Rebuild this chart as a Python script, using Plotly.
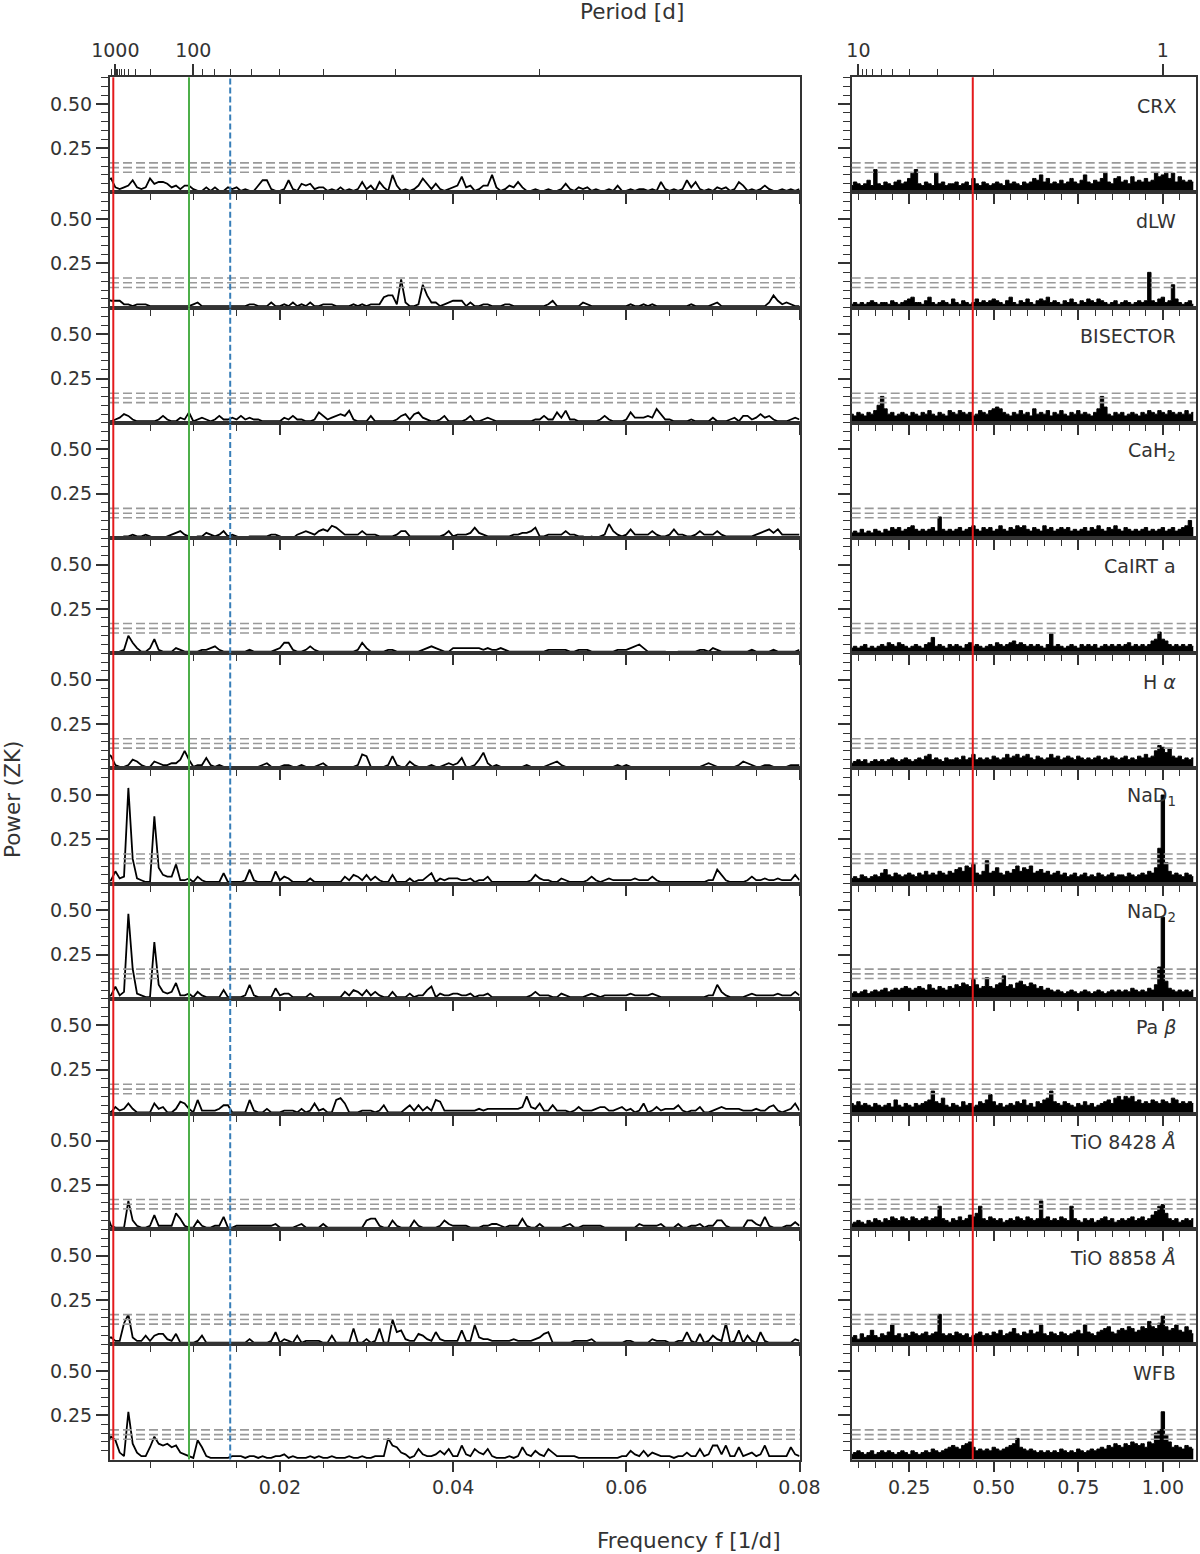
"""ZK periodograms of the activity indicators: long-period and short-period windows."""

from __future__ import annotations

import numpy as np
import plotly.graph_objects as go

FONT = "DejaVu Sans"
INK = "#333333"
W, H = 1200, 1554

# frequency grids [1/d]
FREQ_LONG = np.linspace(0.0, 0.08, 161)
FREQ_SHORT = np.linspace(0.08, 1.09, 102)

# ZK power, in units of 0.01
CRX_LONG = [7, 8, 3, 2, 3, 4, 7, 3, 2, 3, 8, 5, 6, 6, 5, 3, 4, 2, 4, 4,
            2, 1, 1, 3, 1, 3, 1, 1, 3, 2, 3, 1, 2, 1, 1, 4, 7, 7, 2, 1,
            1, 2, 7, 2, 1, 5, 4, 5, 2, 3, 3, 1, 2, 1, 3, 1, 2, 1, 2, 6,
            2, 4, 1, 6, 3, 1, 10, 4, 1, 2, 1, 2, 4, 8, 5, 2, 5, 2, 1, 2,
            3, 4, 9, 3, 4, 1, 2, 4, 4, 10, 3, 1, 2, 4, 3, 6, 3, 1, 1, 2,
            1, 1, 2, 1, 1, 2, 5, 2, 1, 3, 2, 3, 1, 2, 1, 1, 2, 1, 4, 1,
            1, 2, 1, 2, 2, 1, 2, 1, 6, 2, 1, 2, 1, 2, 7, 3, 6, 2, 1, 2,
            1, 3, 2, 3, 1, 2, 6, 4, 1, 2, 1, 2, 4, 2, 1, 1, 2, 1, 2, 1, 2]
DLW_LONG = [5, 4, 4, 4, 2, 2, 1, 2, 2, 2, 1, 1, 1, 1, 1, 1, 1, 1, 1, 1,
            2, 3, 1, 1, 1, 1, 1, 1, 1, 1, 1, 1, 1, 2, 2, 1, 1, 1, 3, 1,
            1, 2, 1, 3, 1, 2, 1, 3, 1, 1, 2, 2, 2, 1, 1, 1, 1, 2, 1, 2,
            1, 2, 2, 2, 6, 7, 7, 2, 16, 3, 1, 1, 2, 13, 7, 3, 3, 1, 2, 3,
            4, 4, 4, 1, 3, 1, 1, 2, 2, 1, 1, 1, 2, 2, 1, 1, 1, 1, 1, 1,
            1, 1, 2, 4, 1, 1, 1, 1, 1, 1, 3, 2, 1, 1, 1, 1, 1, 1, 1, 1,
            1, 2, 1, 1, 2, 1, 2, 1, 1, 1, 1, 1, 1, 1, 1, 2, 1, 1, 1, 1,
            2, 3, 1, 1, 1, 1, 1, 1, 1, 1, 1, 1, 1, 3, 7, 4, 2, 3, 2, 1, 1]
BIS_LONG = [1, 1, 2, 3, 5, 4, 2, 1, 1, 1, 1, 1, 2, 4, 2, 1, 1, 3, 2, 6,
            1, 2, 3, 2, 1, 2, 4, 2, 2, 3, 2, 4, 2, 3, 2, 2, 1, 1, 1, 1,
            1, 3, 2, 4, 2, 2, 1, 1, 2, 6, 4, 2, 3, 4, 5, 4, 7, 2, 1, 1,
            1, 4, 1, 1, 1, 1, 1, 2, 4, 5, 2, 5, 6, 3, 2, 1, 1, 2, 4, 1,
            1, 1, 1, 2, 4, 1, 1, 2, 3, 2, 1, 1, 1, 1, 1, 1, 1, 1, 1, 2,
            2, 4, 2, 2, 6, 3, 7, 2, 2, 1, 1, 1, 1, 1, 2, 4, 2, 1, 1, 1,
            2, 6, 3, 3, 3, 4, 3, 8, 5, 2, 2, 1, 1, 1, 1, 2, 1, 1, 1, 1,
            3, 1, 1, 1, 2, 3, 1, 4, 4, 2, 3, 5, 3, 4, 2, 1, 1, 1, 2, 3, 2]
CAH2_LONG = [0, 0, 0, 0, 1, 1, 2, 1, 1, 2, 1, 0, 0, 0, 1, 2, 3, 4, 2, 1,
             0, 1, 1, 3, 2, 1, 2, 4, 1, 2, 1, 0, 0, 1, 1, 1, 1, 1, 2, 2,
             1, 0, 0, 0, 2, 3, 4, 3, 2, 4, 5, 4, 7, 6, 4, 2, 2, 2, 2, 4,
             2, 2, 2, 1, 1, 1, 1, 2, 4, 4, 1, 1, 1, 1, 1, 1, 1, 1, 2, 4,
             1, 2, 2, 2, 3, 6, 3, 2, 1, 1, 1, 1, 1, 1, 2, 2, 3, 3, 4, 6,
             1, 1, 2, 2, 2, 2, 4, 2, 2, 1, 1, 0, 1, 0, 1, 2, 8, 4, 2, 1,
             2, 5, 2, 2, 2, 2, 4, 2, 1, 1, 2, 5, 2, 2, 1, 1, 2, 4, 2, 2,
             2, 4, 2, 1, 1, 1, 1, 1, 1, 1, 2, 3, 4, 5, 3, 5, 2, 2, 2, 2, 2]
CAIRT_LONG = [0, 0, 0, 1, 2, 10, 6, 3, 1, 1, 3, 8, 2, 1, 1, 1, 3, 2, 1, 1,
              1, 1, 2, 2, 3, 4, 2, 1, 1, 1, 1, 1, 1, 2, 1, 1, 1, 1, 1, 2,
              3, 6, 6, 2, 1, 1, 2, 4, 2, 1, 1, 1, 1, 1, 1, 1, 1, 1, 2, 6,
              3, 1, 1, 1, 1, 2, 2, 1, 1, 1, 1, 1, 1, 2, 3, 4, 3, 2, 1, 1,
              3, 3, 3, 3, 3, 3, 3, 2, 3, 2, 2, 3, 2, 1, 1, 1, 1, 1, 1, 1,
              1, 1, 2, 2, 2, 2, 2, 1, 1, 2, 2, 2, 1, 1, 1, 1, 1, 1, 2, 2,
              2, 3, 4, 5, 3, 1, 1, 1, 1, 1, 0, 0, 1, 1, 1, 1, 1, 2, 2, 1,
              3, 2, 1, 1, 1, 1, 1, 1, 1, 2, 1, 1, 1, 1, 2, 1, 1, 1, 1, 1, 2]
HA_LONG = [9, 7, 2, 1, 1, 2, 5, 4, 2, 1, 1, 4, 3, 2, 2, 3, 3, 5, 10, 5,
           1, 2, 2, 6, 2, 1, 2, 1, 1, 1, 1, 1, 1, 1, 1, 1, 2, 3, 1, 1,
           1, 2, 2, 1, 1, 2, 1, 1, 1, 2, 3, 1, 1, 1, 1, 1, 1, 1, 2, 8,
           7, 1, 1, 1, 1, 2, 7, 2, 1, 1, 4, 2, 1, 1, 1, 2, 1, 1, 2, 3,
           2, 3, 6, 1, 1, 2, 5, 9, 3, 1, 2, 1, 1, 1, 1, 1, 1, 2, 1, 1,
           1, 1, 2, 3, 4, 2, 1, 1, 1, 1, 1, 1, 1, 1, 1, 1, 1, 1, 2, 1,
           2, 1, 1, 1, 1, 1, 1, 1, 1, 1, 1, 1, 1, 1, 1, 1, 1, 1, 2, 3,
           2, 1, 1, 1, 1, 1, 2, 4, 3, 2, 1, 1, 2, 2, 1, 1, 1, 1, 2, 2, 2]
NAD1_LONG = [1, 2, 7, 3, 4, 54, 14, 3, 2, 1, 1, 38, 9, 5, 4, 4, 11, 2, 2, 3,
             1, 4, 2, 1, 1, 1, 1, 6, 1, 1, 1, 1, 2, 8, 2, 1, 1, 1, 1, 7,
             2, 4, 3, 1, 1, 1, 1, 3, 1, 1, 1, 1, 1, 1, 1, 4, 2, 5, 4, 2,
             5, 2, 4, 2, 1, 1, 5, 1, 1, 1, 3, 1, 2, 2, 4, 6, 1, 3, 2, 3,
             3, 3, 2, 2, 3, 1, 2, 2, 4, 1, 1, 1, 1, 1, 1, 1, 1, 1, 2, 5,
             3, 2, 2, 1, 1, 3, 2, 1, 1, 1, 1, 2, 4, 2, 1, 2, 3, 2, 2, 2,
             2, 2, 3, 2, 2, 2, 4, 2, 1, 1, 1, 1, 1, 1, 1, 1, 1, 1, 1, 2,
             2, 8, 5, 2, 1, 1, 1, 1, 2, 4, 2, 2, 3, 2, 2, 3, 2, 2, 2, 5, 2]
NAD2_LONG = [1, 2, 7, 2, 4, 48, 17, 3, 2, 1, 1, 32, 8, 4, 3, 4, 9, 2, 2, 3,
             1, 4, 2, 1, 1, 1, 1, 5, 1, 1, 1, 1, 2, 8, 2, 1, 1, 1, 1, 6,
             2, 3, 3, 1, 1, 1, 1, 3, 1, 1, 1, 1, 1, 1, 1, 4, 2, 5, 4, 2,
             5, 2, 4, 2, 1, 1, 4, 1, 1, 1, 3, 1, 2, 2, 5, 7, 1, 3, 2, 2,
             3, 3, 2, 2, 3, 1, 2, 2, 3, 1, 1, 1, 1, 1, 1, 1, 1, 1, 2, 4,
             2, 2, 2, 1, 1, 3, 2, 1, 1, 1, 1, 2, 3, 2, 1, 2, 2, 2, 2, 2,
             2, 3, 2, 2, 2, 2, 3, 2, 1, 1, 1, 1, 1, 1, 1, 1, 1, 1, 1, 2,
             2, 8, 4, 2, 1, 1, 1, 1, 2, 3, 2, 2, 2, 2, 2, 3, 2, 2, 2, 4, 2]
PAB_LONG = [2, 1, 4, 2, 3, 6, 3, 1, 1, 1, 1, 6, 3, 4, 1, 1, 3, 7, 6, 3,
            1, 8, 2, 2, 2, 2, 3, 5, 5, 1, 1, 1, 1, 8, 2, 1, 1, 3, 1, 1,
            1, 2, 2, 2, 1, 3, 1, 2, 6, 2, 3, 1, 1, 8, 9, 6, 1, 1, 1, 2,
            2, 2, 1, 2, 5, 1, 1, 1, 1, 3, 5, 2, 5, 2, 4, 2, 8, 7, 2, 2,
            2, 2, 2, 2, 2, 2, 3, 2, 3, 3, 3, 3, 3, 3, 3, 3, 4, 10, 4, 3,
            6, 2, 2, 5, 2, 2, 2, 1, 2, 4, 2, 2, 2, 3, 4, 4, 2, 2, 3, 4,
            2, 3, 1, 2, 6, 1, 2, 4, 2, 3, 3, 3, 5, 2, 1, 2, 2, 4, 1, 1,
            2, 3, 4, 3, 3, 3, 3, 2, 2, 2, 3, 2, 2, 4, 5, 2, 1, 2, 3, 6, 2]
TIO84_LONG = [9, 2, 1, 1, 1, 16, 5, 2, 1, 1, 2, 8, 2, 2, 2, 2, 9, 6, 2, 1,
              1, 5, 2, 1, 1, 2, 2, 7, 1, 1, 2, 2, 2, 2, 2, 2, 2, 2, 2, 3,
              1, 1, 1, 1, 2, 3, 1, 1, 1, 1, 3, 1, 1, 1, 1, 1, 1, 1, 1, 1,
              5, 6, 6, 2, 1, 1, 5, 2, 1, 1, 1, 5, 2, 1, 1, 1, 1, 2, 5, 3,
              2, 2, 2, 2, 1, 1, 1, 2, 2, 3, 3, 2, 1, 2, 2, 2, 6, 2, 1, 1,
              3, 1, 1, 1, 1, 1, 2, 3, 1, 1, 2, 2, 2, 2, 2, 1, 1, 1, 1, 1,
              1, 1, 1, 3, 2, 2, 2, 2, 3, 1, 1, 1, 3, 1, 1, 2, 2, 3, 1, 2,
              2, 5, 5, 2, 1, 1, 1, 1, 5, 5, 3, 2, 7, 2, 1, 1, 1, 2, 2, 4, 2]
TIO88_LONG = [3, 4, 2, 2, 12, 17, 4, 2, 2, 5, 2, 5, 6, 6, 3, 2, 6, 1, 1, 1,
              1, 2, 5, 1, 1, 1, 1, 1, 1, 1, 1, 1, 1, 3, 1, 1, 1, 1, 2, 7,
              1, 3, 2, 1, 5, 1, 2, 2, 2, 2, 1, 1, 5, 1, 1, 1, 1, 9, 1, 1,
              3, 1, 2, 9, 1, 1, 14, 7, 8, 3, 2, 2, 6, 5, 3, 2, 7, 3, 2, 2,
              2, 2, 8, 2, 2, 11, 4, 3, 3, 2, 2, 2, 2, 2, 3, 2, 2, 2, 2, 3,
              4, 6, 7, 1, 1, 1, 1, 1, 2, 2, 2, 2, 3, 1, 1, 1, 1, 1, 1, 1,
              2, 2, 1, 1, 1, 1, 3, 2, 2, 2, 1, 1, 2, 2, 7, 2, 1, 6, 1, 2,
              5, 3, 2, 12, 1, 2, 8, 1, 5, 2, 1, 7, 2, 1, 1, 1, 1, 1, 1, 3, 2]
WFB_LONG = [8, 13, 11, 4, 2, 27, 9, 4, 2, 2, 7, 13, 9, 8, 9, 7, 8, 4, 3, 2,
            1, 11, 7, 2, 1, 1, 1, 1, 1, 2, 2, 2, 1, 2, 2, 1, 2, 1, 1, 2,
            2, 3, 1, 2, 1, 1, 1, 2, 1, 2, 1, 1, 2, 1, 1, 1, 2, 1, 1, 2,
            1, 1, 2, 2, 2, 12, 8, 7, 4, 3, 1, 2, 6, 3, 2, 2, 3, 5, 3, 6,
            2, 2, 8, 3, 2, 6, 4, 3, 6, 2, 1, 1, 1, 2, 1, 2, 7, 3, 2, 5,
            3, 2, 6, 4, 2, 2, 2, 2, 2, 1, 1, 1, 1, 1, 1, 1, 1, 1, 1, 2,
            2, 5, 3, 2, 5, 2, 4, 3, 2, 2, 2, 1, 2, 2, 4, 2, 2, 6, 2, 3,
            8, 8, 3, 8, 2, 2, 7, 2, 3, 4, 2, 3, 8, 2, 2, 2, 2, 2, 7, 3, 2]

# ZK power, in units of 0.01
CRX_SHORT = [4, 6, 5, 4, 5, 7, 4, 13, 5, 4, 6, 5, 4, 6, 7, 5, 6, 8, 11, 13,
             5, 4, 6, 5, 4, 11, 5, 6, 4, 5, 5, 6, 4, 5, 6, 4, 8, 5, 4, 6,
             5, 4, 5, 6, 5, 4, 7, 5, 6, 5, 4, 6, 5, 6, 8, 7, 10, 6, 8, 5,
             6, 5, 7, 5, 6, 8, 6, 5, 7, 10, 6, 5, 7, 6, 8, 11, 6, 5, 8, 9,
             6, 7, 5, 9, 6, 7, 6, 8, 6, 7, 11, 9, 10, 11, 8, 11, 6, 9, 7, 6,
             7, 6]
DLW_SHORT = [2, 3, 2, 3, 2, 3, 4, 3, 2, 3, 3, 2, 4, 3, 2, 3, 4, 5, 6, 3,
             3, 2, 4, 6, 3, 2, 3, 4, 3, 2, 5, 3, 2, 4, 3, 2, 3, 5, 3, 4,
             3, 4, 5, 4, 3, 2, 4, 6, 3, 2, 4, 3, 5, 3, 2, 4, 5, 4, 6, 3,
             4, 3, 2, 4, 3, 5, 3, 2, 4, 3, 5, 4, 3, 5, 4, 3, 2, 3, 4, 2,
             3, 4, 3, 2, 3, 4, 3, 4, 20, 4, 3, 5, 6, 3, 4, 13, 5, 3, 2, 3,
             4, 2]
BIS_SHORT = [5, 4, 6, 5, 4, 6, 5, 7, 10, 15, 8, 5, 6, 4, 5, 6, 5, 4, 6, 5,
             4, 6, 5, 7, 5, 4, 6, 5, 4, 7, 6, 5, 7, 6, 5, 6, 4, 5, 7, 6,
             5, 7, 8, 9, 8, 6, 5, 4, 6, 5, 7, 5, 6, 4, 8, 5, 6, 5, 7, 4,
             6, 5, 7, 5, 4, 6, 5, 7, 5, 6, 5, 4, 6, 8, 15, 9, 5, 4, 6, 5,
             6, 4, 5, 6, 5, 4, 6, 5, 7, 6, 5, 7, 6, 5, 7, 6, 5, 6, 5, 7,
             5, 6]
CAH2_SHORT = [3, 4, 3, 5, 3, 4, 3, 5, 4, 3, 5, 4, 6, 5, 6, 4, 5, 6, 7, 5,
              4, 5, 4, 5, 6, 4, 12, 5, 4, 5, 4, 5, 6, 4, 5, 6, 7, 5, 4, 6,
              5, 6, 4, 5, 7, 5, 4, 6, 5, 7, 6, 7, 5, 4, 6, 5, 4, 7, 5, 6,
              4, 5, 6, 5, 6, 4, 5, 4, 5, 6, 4, 6, 5, 7, 5, 4, 6, 5, 7, 5,
              4, 6, 5, 4, 5, 4, 5, 6, 4, 5, 4, 5, 6, 4, 5, 6, 4, 5, 6, 7,
              10, 6]
CAIRT_SHORT = [3, 4, 3, 4, 5, 3, 4, 3, 4, 5, 4, 6, 5, 4, 6, 5, 4, 3, 4, 5,
               4, 3, 5, 6, 9, 4, 5, 4, 3, 5, 4, 5, 4, 3, 5, 6, 4, 5, 4, 3,
               4, 5, 4, 6, 5, 4, 5, 6, 7, 5, 6, 5, 4, 5, 4, 5, 4, 3, 5, 11,
               4, 5, 4, 3, 4, 5, 4, 3, 5, 4, 5, 4, 5, 3, 4, 5, 4, 5, 4, 5,
               4, 5, 6, 4, 5, 4, 5, 4, 5, 7, 8, 12, 8, 7, 5, 4, 5, 4, 5, 4,
               5, 4]
HA_SHORT = [3, 4, 5, 4, 5, 3, 4, 5, 4, 5, 4, 5, 6, 5, 4, 5, 6, 5, 4, 5,
            6, 5, 7, 8, 5, 6, 5, 4, 6, 5, 5, 6, 5, 7, 5, 6, 8, 5, 6, 5,
            6, 5, 7, 6, 5, 6, 8, 6, 7, 8, 6, 7, 8, 6, 5, 7, 6, 5, 6, 8,
            6, 7, 5, 6, 7, 6, 5, 7, 6, 5, 6, 5, 6, 7, 5, 6, 5, 7, 6, 5,
            6, 7, 5, 6, 5, 7, 6, 8, 6, 7, 10, 13, 12, 9, 11, 7, 6, 7, 5, 6,
            5, 6]
NAD1_SHORT = [3, 4, 3, 5, 4, 3, 4, 5, 4, 6, 8, 5, 4, 6, 5, 4, 5, 6, 5, 4,
              6, 5, 7, 5, 6, 5, 7, 6, 5, 7, 6, 8, 9, 7, 10, 9, 11, 6, 5, 7,
              13, 6, 7, 9, 6, 5, 7, 6, 8, 10, 7, 9, 8, 10, 6, 7, 8, 6, 7, 5,
              6, 7, 5, 6, 4, 5, 6, 4, 5, 6, 4, 5, 4, 6, 5, 4, 5, 6, 4, 5,
              5, 4, 6, 5, 4, 5, 6, 5, 7, 6, 9, 20, 50, 12, 7, 5, 6, 5, 4, 6,
              5, 4]
NAD2_SHORT = [3, 4, 3, 4, 5, 3, 4, 5, 4, 5, 6, 4, 5, 6, 5, 6, 7, 6, 5, 6,
              7, 6, 5, 8, 6, 5, 7, 6, 5, 7, 6, 8, 7, 9, 8, 7, 11, 8, 6, 7,
              12, 7, 6, 8, 9, 13, 7, 8, 6, 9, 10, 8, 7, 9, 8, 6, 7, 5, 6, 5,
              4, 5, 4, 3, 4, 5, 4, 3, 4, 5, 4, 3, 4, 5, 4, 3, 4, 5, 4, 5,
              4, 5, 4, 6, 5, 4, 5, 4, 6, 5, 8, 18, 46, 10, 6, 5, 4, 5, 4, 5,
              4, 5]
PAB_SHORT = [6, 5, 7, 5, 6, 5, 4, 6, 5, 4, 5, 6, 4, 8, 5, 4, 6, 5, 4, 6,
             5, 6, 7, 8, 13, 7, 6, 9, 5, 4, 6, 5, 4, 7, 5, 6, 4, 5, 7, 6,
             8, 11, 7, 5, 6, 4, 5, 6, 5, 7, 6, 8, 5, 6, 4, 7, 6, 8, 9, 13,
             7, 6, 5, 7, 6, 5, 4, 6, 5, 7, 5, 6, 4, 5, 6, 7, 8, 6, 9, 10,
             8, 10, 9, 10, 7, 8, 6, 7, 6, 8, 7, 6, 8, 7, 6, 9, 8, 6, 7, 6,
             7, 6]
TIO84_SHORT = [3, 4, 5, 4, 3, 5, 4, 6, 5, 4, 6, 5, 7, 6, 5, 7, 6, 5, 7, 6,
               5, 6, 7, 5, 6, 7, 13, 6, 5, 4, 6, 5, 7, 5, 6, 8, 7, 9, 13, 6,
               5, 7, 6, 5, 6, 4, 5, 6, 5, 7, 6, 5, 7, 6, 5, 6, 16, 6, 7, 5,
               6, 5, 7, 6, 5, 13, 6, 5, 4, 6, 5, 6, 4, 5, 6, 7, 5, 6, 4, 5,
               6, 5, 6, 7, 5, 6, 7, 5, 6, 8, 10, 13, 14, 9, 6, 5, 6, 4, 5, 6,
               5, 6]
TIO88_SHORT = [4, 5, 3, 6, 4, 5, 8, 5, 4, 6, 5, 7, 11, 5, 6, 4, 6, 5, 7, 6,
               5, 6, 7, 5, 6, 7, 17, 6, 5, 6, 5, 7, 6, 5, 6, 4, 5, 6, 7, 5,
               6, 5, 7, 6, 8, 5, 6, 7, 9, 6, 5, 7, 6, 8, 6, 7, 11, 6, 5, 7,
               6, 5, 7, 6, 5, 6, 7, 8, 6, 11, 7, 6, 5, 7, 8, 9, 10, 7, 6, 8,
               9, 8, 10, 9, 7, 8, 10, 9, 13, 10, 9, 12, 16, 10, 8, 9, 11, 8, 7, 10,
               8, 6]
WFB_SHORT = [3, 4, 5, 4, 3, 4, 5, 3, 4, 5, 4, 5, 4, 3, 4, 5, 4, 3, 5, 4,
             3, 4, 5, 4, 6, 5, 4, 5, 6, 7, 8, 7, 6, 8, 9, 10, 7, 5, 6, 5,
             6, 5, 7, 6, 5, 6, 7, 8, 9, 12, 7, 6, 5, 6, 5, 4, 5, 4, 5, 4,
             5, 4, 6, 5, 4, 5, 4, 6, 5, 4, 5, 6, 5, 6, 7, 6, 8, 7, 9, 8,
             7, 9, 8, 10, 9, 8, 9, 7, 10, 9, 15, 17, 27, 14, 10, 7, 8, 7, 6, 8,
             7, 6]

INDICATORS = ["CRX", "dLW", "BISECTOR", "CaH<sub>2</sub>", "CaIRT a", "H <i>α</i>",
              "NaD<sub>1</sub>", "NaD<sub>2</sub>", "Pa <i>β</i>", "TiO 8428 <i>Å</i>",
              "TiO 8858 <i>Å</i>", "WFB"]
LONG = [CRX_LONG, DLW_LONG, BIS_LONG, CAH2_LONG, CAIRT_LONG, HA_LONG,
        NAD1_LONG, NAD2_LONG, PAB_LONG, TIO84_LONG, TIO88_LONG, WFB_LONG]
SHORT = [CRX_SHORT, DLW_SHORT, BIS_SHORT, CAH2_SHORT, CAIRT_SHORT, HA_SHORT,
         NAD1_SHORT, NAD2_SHORT, PAB_SHORT, TIO84_SHORT, TIO88_SHORT, WFB_SHORT]

# false-alarm levels and marked frequencies [1/d]
FAP_LEVELS = [0.115, 0.141, 0.168]
F_RED_LONG = 0.00076
F_GREEN = 0.0095
F_BLUE = 0.01426
F_RED_SHORT = 0.438

# period ticks [d] on the top axes
PERIOD_MAJOR_LONG = [1000, 100]
PERIOD_MINOR_LONG = [9000, 8000, 7000, 6000, 5000, 4000, 3000, 2000,
                     900, 800, 700, 600, 500, 400, 300, 200,
                     90, 80, 70, 60, 50, 40, 30, 20]
PERIOD_MAJOR_SHORT = [10, 1]
PERIOD_MINOR_SHORT = [9, 8, 7, 6, 5, 4, 3, 2]

RANGE_LONG = [0.00038, 0.08]
RANGE_SHORT = [0.08, 1.098]
RANGE_POWER = [0.001, 0.65]

DOM_LONG = [110 / W, 799.5 / W]
DOM_SHORT = [851.7 / W, 1196 / W]
TOP, BOTTOM = 77.3, 1459.5
ROW_H = (BOTTOM - TOP) / 12

TICKFONT = dict(family=FONT, size=19, color=INK)
AXIS_STYLE = dict(
    ticks="outside", tickcolor=INK, tickwidth=1.6, showline=True, linecolor=INK,
    linewidth=2, mirror=True, showgrid=False, zeroline=False, tickfont=TICKFONT,
    automargin=False,
)


def suffix(n: int) -> str:
    return "" if n == 1 else str(n)


fig = go.Figure()
layout: dict = {}
shapes: list = []
annotations: list = []

for r in range(12):
    y_hi = 1 - (TOP + r * ROW_H) / H
    y_lo = 1 - (TOP + (r + 1) * ROW_H) / H
    last = r == 11
    for c in range(2):
        n = 2 * r + c + 1
        xa, ya = f"x{suffix(n)}", f"y{suffix(n)}"
        if c == 0:
            freq, power = FREQ_LONG, np.array(LONG[r]) / 100
            fig.add_trace(go.Scatter(
                x=freq, y=power, mode="lines", line=dict(color="black", width=1.8),
                xaxis=xa, yaxis=ya, hoverinfo="skip", showlegend=False,
            ))
            layout[f"xaxis{suffix(n)}"] = dict(
                domain=DOM_LONG, range=RANGE_LONG, anchor=ya, tickmode="linear",
                tick0=0, dtick=0.02, tickformat=".2f", ticklen=10, showticklabels=last,
                minor=dict(tick0=0, dtick=0.005, ticks="outside", ticklen=6,
                           tickcolor=INK, tickwidth=1.4),
                **AXIS_STYLE,
            )
        else:
            freq, power = FREQ_SHORT, np.array(SHORT[r]) / 100
            fig.add_trace(go.Scatter(
                x=freq, y=power, mode="lines", fill="tozeroy", fillcolor="black",
                line=dict(color="black", width=1, shape="hvh"), xaxis=xa, yaxis=ya,
                hoverinfo="skip", showlegend=False,
            ))
            layout[f"xaxis{suffix(n)}"] = dict(
                domain=DOM_SHORT, range=RANGE_SHORT, anchor=ya, tickmode="linear",
                tick0=0, dtick=0.25, tickformat=".2f", ticklen=10, showticklabels=last,
                minor=dict(tick0=0, dtick=0.05, ticks="outside", ticklen=6,
                           tickcolor=INK, tickwidth=1.4),
                **AXIS_STYLE,
            )
        layout[f"yaxis{suffix(n)}"] = dict(
            domain=[y_lo, y_hi], range=RANGE_POWER, anchor=xa, tickmode="linear",
            tick0=0, dtick=0.25, tickformat=".2f", ticklen=12, showticklabels=(c == 0),
            minor=dict(tick0=0, dtick=0.05, ticks="outside", ticklen=7,
                       tickcolor=INK, tickwidth=1.4),
            **AXIS_STYLE,
        )

        # false-alarm levels
        for level in FAP_LEVELS:
            shapes.append(dict(
                type="line", xref=f"{xa} domain", x0=0, x1=1, yref=ya, y0=level, y1=level,
                line=dict(color="#999999", width=1.6, dash="9px,4px"),
            ))

        # marked periods
        if c == 0:
            marks = [(F_RED_LONG, "#e41a1c", "solid"), (F_GREEN, "#4daf4a", "solid"),
                     (F_BLUE, "#377eb8", "6px,3px")]
        else:
            marks = [(F_RED_SHORT, "#e41a1c", "solid")]
        for f0, color, dash in marks:
            shapes.append(dict(
                type="line", xref=xa, x0=f0, x1=f0, yref=f"{ya} domain", y0=0, y1=1,
                line=dict(color=color, width=2, dash=dash),
            ))

        if c == 1:
            annotations.append(dict(
                text=INDICATORS[r], xref=f"{xa} domain", yref=f"{ya} domain",
                x=0.948, y=0.753, xanchor="right", yanchor="middle", showarrow=False,
                font=dict(family=FONT, size=19, color=INK),
            ))

# period axes on top of the first row
for n, base, rng, major, minor in [
    (25, 1, RANGE_LONG, PERIOD_MAJOR_LONG, PERIOD_MINOR_LONG),
    (26, 2, RANGE_SHORT, PERIOD_MAJOR_SHORT, PERIOD_MINOR_SHORT),
]:
    base_x, base_y = f"x{suffix(base)}", f"y{suffix(base)}"
    fig.add_trace(go.Scatter(
        x=[np.mean(rng)], y=[0.3], mode="markers", marker=dict(opacity=0),
        xaxis=f"x{n}", yaxis=base_y, hoverinfo="skip", showlegend=False,
    ))
    layout[f"xaxis{n}"] = dict(
        overlaying=base_x, side="top", anchor=base_y, range=rng,
        domain=DOM_LONG if base == 1 else DOM_SHORT,
        tickmode="array", tickvals=[1 / p for p in major], ticktext=[str(p) for p in major],
        ticks="outside", ticklen=12, tickwidth=1.6, tickcolor=INK, tickfont=TICKFONT,
        minor=dict(tickmode="array", tickvals=[1 / p for p in minor], ticks="outside",
                   ticklen=7, tickwidth=1.4, tickcolor=INK),
        showline=False, showgrid=False, zeroline=False, automargin=False,
    )

title_font = dict(family=FONT, size=21.5, color=INK)
annotations += [
    dict(text="Period [d]", xref="paper", yref="paper", x=632 / W, y=1 - 12 / H,
         xanchor="center", yanchor="middle", showarrow=False, font=title_font),
    dict(text="Frequency f [1/d]", xref="paper", yref="paper", x=689 / W, y=1 - 1540 / H,
         xanchor="center", yanchor="middle", showarrow=False, font=title_font),
    dict(text="Power (ZK)", xref="paper", yref="paper", x=12 / W, y=1 - 800 / H,
         xanchor="center", yanchor="middle", textangle=-90, showarrow=False,
         font=title_font),
]

fig.update_layout(
    width=W, height=H, margin=dict(l=0, r=0, t=0, b=0, autoexpand=False),
    paper_bgcolor="white", plot_bgcolor="white", showlegend=False,
    shapes=shapes, annotations=annotations, **layout,
)

# the page's default body margin would push the figure 8 px off the window
fig.write_html(
    "out.html",
    config={"displayModeBar": False},
    post_script="document.body.style.margin = '0';",
)
